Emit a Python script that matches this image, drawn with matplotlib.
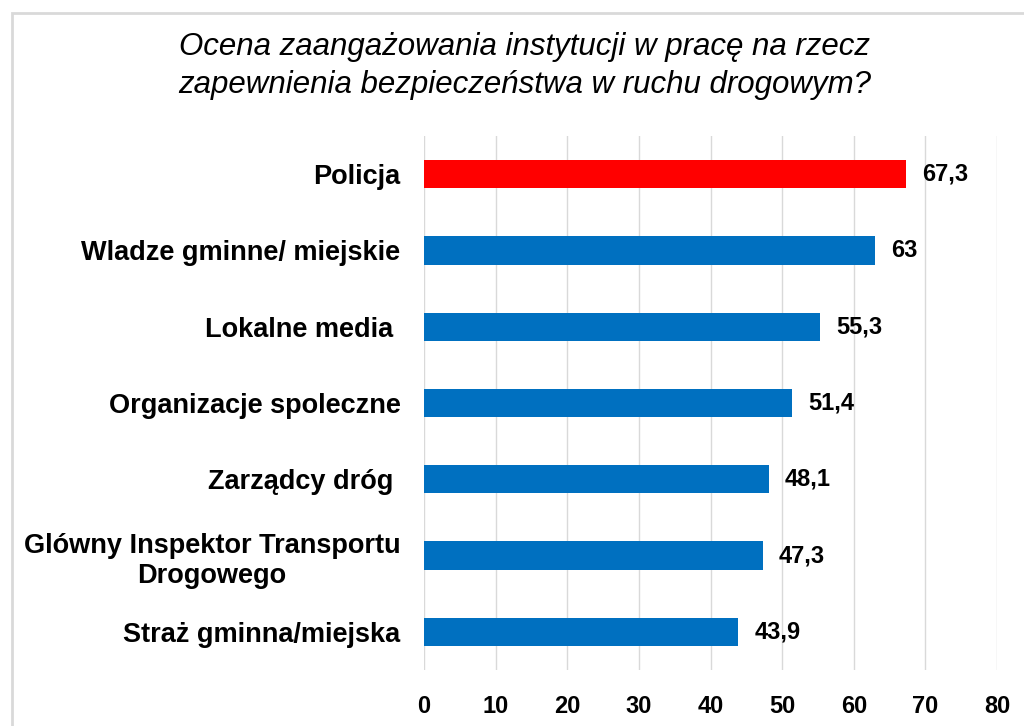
import matplotlib
matplotlib.use("Agg")
import matplotlib.pyplot as plt
from matplotlib.patches import Rectangle

categories = [
    "Policja",
    "Wladze gminne/ miejskie",
    "Lokalne media ",
    "Organizacje spoleczne",
    "Zarządcy dróg ",
    "Glówny Inspektor Transportu\nDrogowego",
    "Straż gminna/miejska",
]
values = [67.3, 63, 55.3, 51.4, 48.1, 47.3, 43.9]
value_labels = ["67,3", "63", "55,3", "51,4", "48,1", "47,3", "43,9"]
bar_colors = ["#FF0000"] + ["#0070C0"] * 6
x_ticks = [0, 10, 20, 30, 40, 50, 60, 70, 80]
title = "Ocena zaangażowania instytucji w pracę na rzecz\nzapewnienia bezpieczeństwa w ruchu drogowym?"

plt.rcParams['font.family'] = ['Liberation Sans', 'DejaVu Sans']

fig = plt.figure(figsize=(10.24, 7.26), dpi=100)
fig.patches.append(Rectangle((12/1024, -0.1), 1.2, 1 - 13/726 + 0.1, transform=fig.transFigure,
                             fill=False, edgecolor="#D9D9D9", linewidth=2))
ax = fig.add_axes([424/1024, 1 - 670/726, (997 - 424)/1024, (670 - 136)/726])

y = list(range(len(categories)))
ax.barh(y, values, height=0.37, color=bar_colors, zorder=3)
ax.set_ylim(len(categories) - 0.5, -0.5)
ax.set_xlim(0, 80)
ax.set_xticks(x_ticks)
ax.set_xticklabels([str(t) for t in x_ticks], fontsize=17, fontweight="bold")
ax.set_yticks(y)
ax.set_yticklabels(categories, fontsize=19.5, fontweight="bold", multialignment="center")
ax.tick_params(axis="y", length=0, pad=17)
ax.tick_params(axis="x", length=0, pad=18)
ax.grid(axis="x", color="#D9D9D9", linewidth=1, zorder=0)
for s in ax.spines.values():
    s.set_visible(False)

for yi, v, lab in zip(y, values, value_labels):
    ax.text(v + 2.2, yi, lab, va="center", ha="left", fontsize=17, fontweight="bold", zorder=4)

fig.text(0.512, 1 - 66/726, title, ha="center", va="center", fontsize=22.5, fontstyle="italic",
         linespacing=1.32)

fig.savefig("out.png", dpi=100)
